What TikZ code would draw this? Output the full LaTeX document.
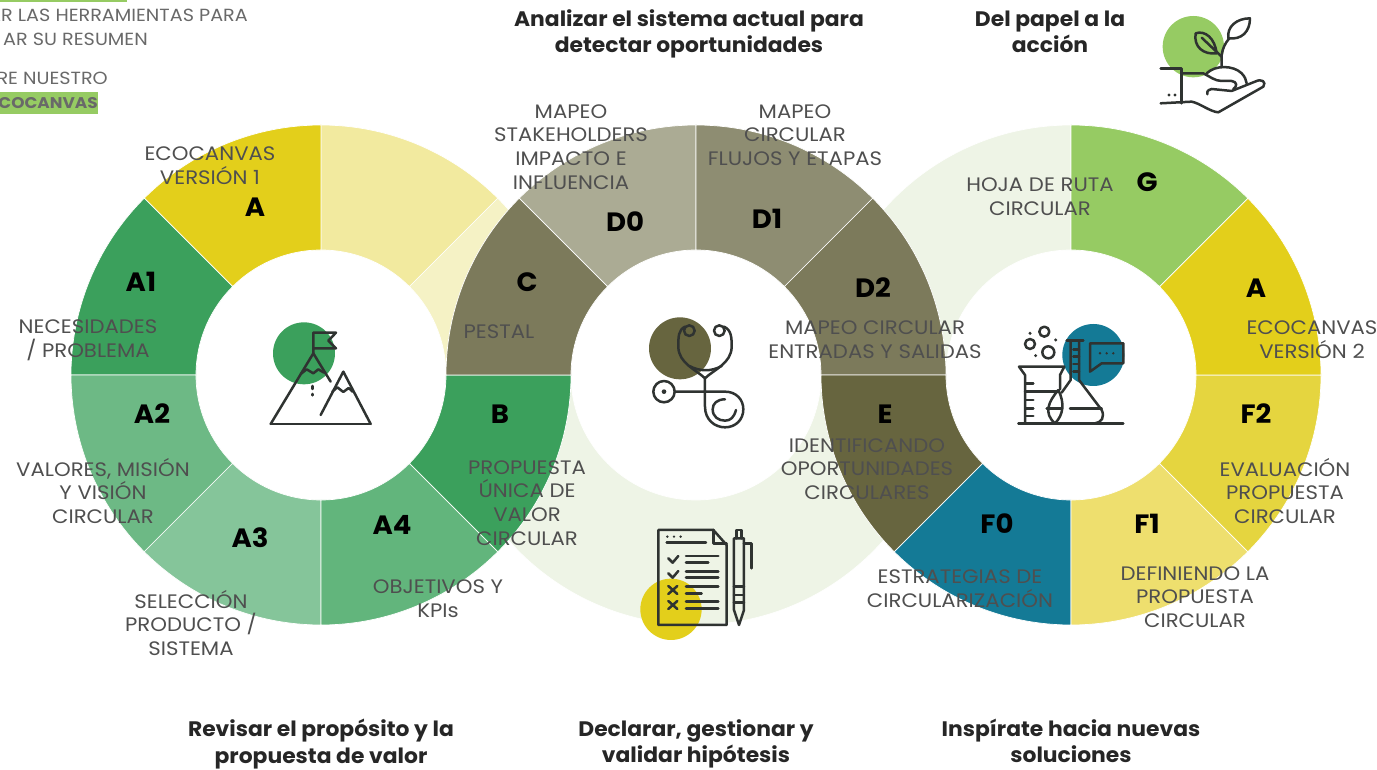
\documentclass[tikz,border=0pt]{standalone}
\usepackage{fontspec}
\setmainfont{Poppins}
\newfontfamily\wideface[FakeStretch=1.09]{Poppins}
\newfontfamily\headface[FakeStretch=1.04]{Poppins}
\usetikzlibrary{positioning}

\definecolor{ecoyellow}{HTML}{E3CF1B}
\definecolor{ecoyellowb}{HTML}{E5D53F}
\definecolor{ecoyellowc}{HTML}{EEDF6E}
\definecolor{paleyellow}{HTML}{F2EA9F}
\definecolor{paleyellowb}{HTML}{F5F2C5}
\definecolor{palegreen}{HTML}{EEF4E6}
\definecolor{ecogreen}{HTML}{3BA05C}
\definecolor{ecogreenb}{HTML}{6DB985}
\definecolor{ecogreenc}{HTML}{85C59A}
\definecolor{ecogreend}{HTML}{62B57C}
\definecolor{lime}{HTML}{96CB63}
\definecolor{teal}{HTML}{147A96}
\definecolor{olive}{HTML}{7C7A5B}
\definecolor{oliveb}{HTML}{ABAB94}
\definecolor{olivec}{HTML}{8E8D72}
\definecolor{olived}{HTML}{67653F}
\definecolor{inkgray}{HTML}{4F4F4F}
\definecolor{iconink}{HTML}{2F3331}

\newcommand{\ringpart}[4]{
  \fill[#4, draw=white, line width=0.7pt] (#1) ++(#2:250) arc[start angle=#2, end angle=#3, radius=250]
    -- ++(#3:-125) arc[start angle=#3, end angle=#2, radius=125] -- cycle;
}

\tikzset{
  seglbl/.style={anchor=center, inner sep=0pt, font=\headface\fontsize{26.5}{28}\selectfont\bfseries, text=black},
  txtlbl/.style={anchor=center, inner sep=0pt, align=center, font=\wideface\fontsize{19.5}{23.8}\selectfont, text=inkgray},
  headlbl/.style={anchor=center, inner sep=0pt, align=center, font=\headface\fontsize{21}{26.5}\selectfont\bfseries, text=black!85},
  toplbl/.style={anchor=east, inner sep=0pt, font=\wideface\fontsize{17.6}{20}\selectfont, text=inkgray!85},
  iconline/.style={draw=iconink, line width=2.5pt, line join=round, line cap=round},
}

\begin{document}
\begin{tikzpicture}[x=1pt, y=1pt]
  \useasboundingbox (0,0) rectangle (1377,769);
  \coordinate (left) at (321,394);
  \coordinate (mid) at (696,394);
  \coordinate (right) at (1071,394);

  % pale parts go below
  \ringpart{left}{45}{90}{paleyellow}
  \ringpart{left}{0}{45}{paleyellowb}
  \ringpart{mid}{180}{360}{palegreen}
  \ringpart{right}{90}{180}{palegreen}

  % left ring
  \ringpart{left}{90}{135}{ecoyellow}
  \ringpart{left}{135}{180}{ecogreen}
  \ringpart{left}{180}{225}{ecogreenb}
  \ringpart{left}{225}{270}{ecogreenc}
  \ringpart{left}{270}{315}{ecogreend}
  \ringpart{left}{315}{360}{ecogreen}
  % middle ring
  \ringpart{mid}{135}{180}{olive}
  \ringpart{mid}{90}{135}{oliveb}
  \ringpart{mid}{45}{90}{olivec}
  \ringpart{mid}{0}{45}{olive}
  % right ring
  \ringpart{right}{180}{225}{olived}
  \ringpart{right}{225}{270}{teal}
  \ringpart{right}{270}{315}{ecoyellowc}
  \ringpart{right}{315}{360}{ecoyellowb}
  \ringpart{right}{0}{45}{ecoyellow}
  \ringpart{right}{45}{90}{lime}

  % segment letters
  \node [above left=168pt and 66pt of left, seglbl] (segA) {A};
  \node [above left=93pt and 180pt of left, seglbl] (segAa) {A1};
  \node [below left=39pt and 169pt of left, seglbl] (segAb) {A2};
  \node [below left=163pt and 71pt of left, seglbl] (segAc) {A3};
  \node [below right=150pt and 71pt of left, seglbl] (segAd) {A4};
  \node [below right=39pt and 179pt of left, seglbl] (segB) {B};
  \node [above left=93pt and 169pt of mid, seglbl] (segC) {C};
  \node [above left=153pt and 71pt of mid, seglbl] (segDa) {D0};
  \node [above right=156pt and 71pt of mid, seglbl] (segDb) {D1};
  \node [above right=87pt and 177pt of mid, seglbl] (segDc) {D2};
  \node [below left=39pt and 186pt of right, seglbl] (segE) {E};
  \node [below left=149pt and 74pt of right, seglbl] (segFa) {F0};
  \node [below right=149pt and 76pt of right, seglbl] (segFb) {F1};
  \node [below right=39pt and 185pt of right, seglbl] (segFc) {F2};
  \node [above right=87pt and 185pt of right, seglbl] (segAe) {A};
  \node [above right=193pt and 76pt of right, seglbl] (segG) {G};

  % segment texts
  \node [above left=209pt and 111pt of left, txtlbl] (txtA) {ECOCANVAS\\VERSIÓN 1};
  \node [above left=35pt and 233pt of left, txtlbl] (txtAa) {NECESIDADES\\/ PROBLEMA};
  \node [below left=116pt and 218pt of left, txtlbl] (txtAb) {VALORES, MISIÓN\\Y VISIÓN\\CIRCULAR};
  \node [below left=248pt and 130pt of left, txtlbl] (txtAc) {SELECCIÓN\\PRODUCTO /\\SISTEMA};
  \node [below right=224pt and 117pt of left, txtlbl] (txtAd) {OBJETIVOS Y\\KPIs};
  \node [below right=128pt and 206pt of left, txtlbl] (txtB) {PROPUESTA\\ÚNICA DE\\VALOR\\CIRCULAR};
  \node [above left=43pt and 197pt of mid, txtlbl] (txtC) {PESTAL};
  \node [above left=228pt and 125pt of mid, txtlbl] (txtDa) {MAPEO\\STAKEHOLDERS\\IMPACTO E\\INFLUENCIA};
  \node [above right=240pt and 99pt of mid, txtlbl] (txtDb) {MAPEO\\CIRCULAR\\FLUJOS Y ETAPAS};
  \node [above right=35pt and 179pt of mid, txtlbl] (txtDc) {MAPEO CIRCULAR\\ENTRADAS Y SALIDAS};
  \node [below left=94pt and 204pt of right, txtlbl] (txtE) {IDENTIFICANDO\\OPORTUNIDADES\\CIRCULARES};
  \node [below left=214pt and 111pt of right, txtlbl] (txtFa) {ESTRATEGIAS DE\\CIRCULARIZACIÓN};
  \node [below right=222pt and 124pt of right, txtlbl] (txtFb) {DEFINIENDO LA\\PROPUESTA\\CIRCULAR};
  \node [below right=116pt and 214pt of right, txtlbl] (txtFc) {EVALUACIÓN\\PROPUESTA\\CIRCULAR};
  \node [above right=35pt and 241pt of right, txtlbl] (txtAe) {ECOCANVAS\\VERSIÓN 2};
  \node [above left=178pt and 31pt of right, txtlbl] (txtG) {HOJA DE RUTA\\CIRCULAR};

  % headings
  \node [above left=341pt and 7pt of mid, headlbl] (headD) {Analizar el sistema actual para\\detectar oportunidades};
  \node [above left=343pt and 21pt of right, headlbl] (headG) {Del papel a la\\acción};
  \node [below=369pt of left, headlbl] (headA) {Revisar el propósito y la\\propuesta de valor};
  \node [below=369pt of mid, headlbl] (headH) {Declarar, gestionar y\\validar hipótesis};
  \node [below=366pt of right, headlbl] (headI) {Inspírate hacia nuevas\\soluciones};

  % text at the corner
  \fill[lime] (0,767) rectangle (127,769);
  \fill[lime] (0,655) rectangle (98,677);
  \node [toplbl] (cutA) at (248,754) {AR LAS HERRAMIENTAS PARA};
  \node [toplbl] (cutB) at (148,730) {AR SU RESUMEN};
  \node [toplbl] (cutC) at (108,691) {RE NUESTRO};
  \node [toplbl, font=\wideface\fontsize{15.5}{20}\selectfont\bfseries] (cutD) at (98,666) {ECOCANVAS};

  % mountain icon
  \begin{scope}[shift={(250,459)}, x=0.3333pt, y=-0.3333pt]
    \fill[ecogreen] (162,130) circle[radius=93];
    \draw[iconline] (62,342) -- (362,342);
    \draw[iconline] (62,342) -- (190,130) -- (242,215);
    \draw[iconline] (212,315) -- (280,185) -- (362,342);
    \draw[iconline] (152,192) -- (170,178) -- (190,190) -- (205,178) -- (222,188);
    \draw[iconline] (247,245) -- (262,232) -- (280,246) -- (296,234) -- (308,245);
    \draw[iconline] (190,130) -- (190,68) -- (258,68) -- (235,92) -- (258,115) -- (192,115);
    \draw[iconline, dash pattern=on 3pt off 5pt] (187,228) -- (187,256);
  \end{scope}

  % stethoscope icon
  \begin{scope}[shift={(630,459)}, x=0.3333pt, y=-0.3333pt]
    \fill[olived] (150,115) circle[radius=93];
    \draw[iconline] (178,62) circle[radius=16];
    \draw[iconline] (268,62) circle[radius=16];
    \draw[iconline] (165,50) .. controls (145,60) and (145,80) .. (145,110)
      .. controls (145,160) and (200,180) .. (225,205);
    \draw[iconline] (282,50) .. controls (305,60) and (305,85) .. (305,110)
      .. controls (305,160) and (250,180) .. (225,205);
    \draw[iconline] (178,168) .. controls (210,185) and (245,185) .. (275,168);
    \draw[iconline] (225,205) -- (225,290) .. controls (225,330) and (255,352) .. (285,352)
      .. controls (318,352) and (340,328) .. (340,298) .. controls (340,268) and (318,245) .. (285,245) -- (134,245);
    \draw[iconline] (102,245) circle[radius=32];
    \fill[iconink] (102,245) circle[radius=7];
    \draw[iconline] (285,268) .. controls (262,268) and (248,280) .. (248,298)
      .. controls (248,320) and (265,332) .. (285,332) .. controls (302,332) and (312,322) .. (318,300);
  \end{scope}

  % flask icon
  \begin{scope}[shift={(1005,459)}, x=0.3333pt, y=-0.3333pt]
    \fill[teal] (265,135) circle[radius=93];
    \draw[iconline] (40,340) -- (355,340);
    \draw[iconline] (60,340) -- (60,195) -- (42,170) -- (178,170) -- (165,195) -- (165,238);
    \draw[iconline] (60,245) -- (160,245);
    \foreach \tick in {220,270,295,318}
      \draw[iconline] (62,\tick) -- (85,\tick);
    \draw[iconline] (185,92) -- (235,92);
    \draw[iconline] (197,92) -- (197,210) -- (170,248);
    \draw[iconline] (222,92) -- (222,210) -- (290,300) .. controls (300,320) and (290,338) .. (270,340);
    \draw[iconline] (195,295) -- (290,295);
    \foreach \tick in {118,140,162,184}
      \draw[iconline] (205,\tick) -- (222,\tick);
    \draw[iconline] (160,240) .. controls (130,275) and (115,310) .. (150,340)
      .. controls (175,315) and (180,280) .. (160,240);
    \draw[iconline] (125,295) -- (168,295);
    \draw[iconline] (118,65) circle[radius=15];
    \draw[iconline] (75,102) circle[radius=15];
    \draw[iconline] (130,127) circle[radius=18];
    \foreach \px/\py in {75/70,152/90,92/137}
      \fill[iconink] (\px,\py) circle[radius=5];
    \draw[iconline] (255,100) -- (355,100) -- (355,160) -- (290,160) -- (255,185) -- cycle;
    \foreach \px in {285,305,325}
      \fill[iconink] (\px,130) circle[radius=4];
  \end{scope}

  % plant icon
  \begin{scope}[shift={(1150,764)}, x=0.3333pt, y=-0.3333pt]
    \fill[lime] (130,125) circle[radius=92];
    \draw[iconline] (32,190) -- (95,190) -- (95,295);
    \draw[iconline] (32,295) -- (125,290) .. controls (150,295) and (180,320) .. (205,322)
      -- (340,245) .. controls (350,230) and (335,220) .. (315,230) -- (245,258) -- (185,252) .. controls (170,255) and (170,265) .. (172,268);
    \draw[iconline] (95,205) -- (160,205) .. controls (180,215) and (195,228) .. (215,228) -- (245,228) .. controls (262,230) and (262,245) .. (250,252);
    \draw[iconline] (170,205) .. controls (195,180) and (250,180) .. (275,205) .. controls (285,215) and (288,225) .. (290,235);
    \draw[iconline] (215,185) -- (215,150) .. controls (218,130) and (225,115) .. (238,100);
    \draw[iconline] (155,98) -- (215,155);
    \draw[iconline] (137,85) .. controls (165,75) and (195,100) .. (200,145) .. controls (160,150) and (130,125) .. (137,85) -- cycle;
    \draw[iconline] (300,40) .. controls (260,40) and (230,65) .. (235,100) .. controls (275,105) and (300,80) .. (300,40) -- cycle;
    \fill[iconink] (57,270) circle[radius=5];
    \fill[iconink] (75,270) circle[radius=5];
  \end{scope}

  % checklist icon
  \begin{scope}[shift={(600,289)}, x=0.3333pt, y=-0.3333pt]
    \fill[ecoyellow] (213,388) circle[radius=92];
    \draw[iconline] (175,150) -- (340,150) -- (380,195) -- (380,435) -- (175,435) -- cycle;
    \draw[iconline] (340,150) -- (340,190) -- (380,190);
    \foreach \px in {202,222,242}
      \fill[iconink] (\px,170) circle[radius=4];
    \draw[iconline] (200,187) -- (318,187);
    \draw[iconline] (205,235) -- (218,248) -- (235,228);
    \draw[iconline] (205,280) -- (218,293) -- (235,273);
    \draw[iconline] (205,318) -- (232,342) (232,318) -- (205,342);
    \draw[iconline] (205,363) -- (232,387) (232,363) -- (205,387);
    \foreach \lx/\ly in {355/228,325/248,355/275,355/293,355/320,305/340,355/365,355/385}
      \draw[iconline] (258,\ly) -- (\lx,\ly);
    \draw[iconline] (402,175) -- (432,175) -- (432,390) -- (417,435) -- (402,390) -- cycle;
    \draw[iconline] (410,175) -- (410,150) -- (425,150) -- (425,175);
    \draw[iconline] (432,190) -- (455,190) -- (455,265);
    \foreach \ly in {320,345,368}
      \draw[iconline] (402,\ly) -- (432,\ly);
  \end{scope}
\end{tikzpicture}
\end{document}
